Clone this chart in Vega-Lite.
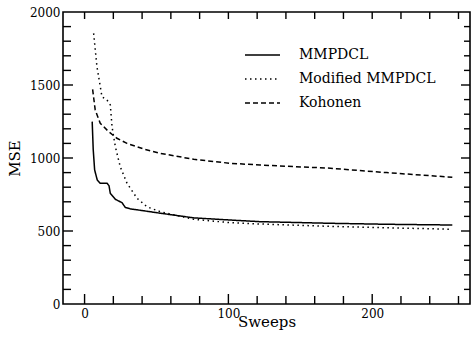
{
  "$schema": "https://vega.github.io/schema/vega-lite/v6.json",
  "width": 407,
  "height": 292,
  "autosize": {"type": "none"},
  "padding": {"left": 63, "top": 12, "right": 1, "bottom": 41},
  "background": "white",
  "config": {
    "view": {"stroke": "black", "strokeWidth": 1.6},
    "font": "DejaVu Serif",
    "axis": {"domain": false, "ticks": false, "grid": false, "labelColor": "black", "titleColor": "black", "titleFontWeight": "normal", "labelFont": "DejaVu Serif", "titleFont": "DejaVu Serif", "labelFontSize": 12, "titleFontSize": 15}
  },
  "datasets": {
    "curves": [
      {"sweep": 5.3, "mse": 1249, "method": "MMPDCL"},
      {"sweep": 6.0, "mse": 1060, "method": "MMPDCL"},
      {"sweep": 7.0, "mse": 918, "method": "MMPDCL"},
      {"sweep": 8.8, "mse": 850, "method": "MMPDCL"},
      {"sweep": 10.9, "mse": 827, "method": "MMPDCL"},
      {"sweep": 15.6, "mse": 827, "method": "MMPDCL"},
      {"sweep": 17.0, "mse": 810, "method": "MMPDCL"},
      {"sweep": 17.9, "mse": 758, "method": "MMPDCL"},
      {"sweep": 21.4, "mse": 717, "method": "MMPDCL"},
      {"sweep": 26.0, "mse": 694, "method": "MMPDCL"},
      {"sweep": 28.3, "mse": 662, "method": "MMPDCL"},
      {"sweep": 32.0, "mse": 651, "method": "MMPDCL"},
      {"sweep": 38.7, "mse": 642, "method": "MMPDCL"},
      {"sweep": 50.4, "mse": 625, "method": "MMPDCL"},
      {"sweep": 75.9, "mse": 590, "method": "MMPDCL"},
      {"sweep": 101.5, "mse": 575, "method": "MMPDCL"},
      {"sweep": 122, "mse": 564, "method": "MMPDCL"},
      {"sweep": 170, "mse": 553, "method": "MMPDCL"},
      {"sweep": 210, "mse": 546, "method": "MMPDCL"},
      {"sweep": 255.7, "mse": 541, "method": "MMPDCL"},
      {"sweep": 6.3, "mse": 1854, "method": "Modified MMPDCL"},
      {"sweep": 8.6, "mse": 1626, "method": "Modified MMPDCL"},
      {"sweep": 12.1, "mse": 1420, "method": "Modified MMPDCL"},
      {"sweep": 15.6, "mse": 1397, "method": "Modified MMPDCL"},
      {"sweep": 17.9, "mse": 1363, "method": "Modified MMPDCL"},
      {"sweep": 19.1, "mse": 1214, "method": "Modified MMPDCL"},
      {"sweep": 21.4, "mse": 1077, "method": "Modified MMPDCL"},
      {"sweep": 24.8, "mse": 940, "method": "Modified MMPDCL"},
      {"sweep": 29.5, "mse": 827, "method": "Modified MMPDCL"},
      {"sweep": 36.5, "mse": 724, "method": "Modified MMPDCL"},
      {"sweep": 43.4, "mse": 666, "method": "Modified MMPDCL"},
      {"sweep": 52.7, "mse": 632, "method": "Modified MMPDCL"},
      {"sweep": 75.9, "mse": 580, "method": "Modified MMPDCL"},
      {"sweep": 101.5, "mse": 557, "method": "Modified MMPDCL"},
      {"sweep": 122, "mse": 548, "method": "Modified MMPDCL"},
      {"sweep": 170, "mse": 532, "method": "Modified MMPDCL"},
      {"sweep": 210, "mse": 522, "method": "Modified MMPDCL"},
      {"sweep": 255.7, "mse": 512, "method": "Modified MMPDCL"},
      {"sweep": 5.6, "mse": 1470, "method": "Kohonen"},
      {"sweep": 7.4, "mse": 1329, "method": "Kohonen"},
      {"sweep": 10.9, "mse": 1238, "method": "Kohonen"},
      {"sweep": 16.7, "mse": 1181, "method": "Kohonen"},
      {"sweep": 22.5, "mse": 1135, "method": "Kohonen"},
      {"sweep": 29.5, "mse": 1100, "method": "Kohonen"},
      {"sweep": 41, "mse": 1062, "method": "Kohonen"},
      {"sweep": 52.7, "mse": 1032, "method": "Kohonen"},
      {"sweep": 75.9, "mse": 991, "method": "Kohonen"},
      {"sweep": 101, "mse": 964, "method": "Kohonen"},
      {"sweep": 122, "mse": 952, "method": "Kohonen"},
      {"sweep": 170.9, "mse": 930, "method": "Kohonen"},
      {"sweep": 210, "mse": 900, "method": "Kohonen"},
      {"sweep": 255.7, "mse": 868, "method": "Kohonen"}
    ],
    "xticks": [
      {"t": 0}, {"t": 20}, {"t": 40}, {"t": 60}, {"t": 80}, {"t": 100}, {"t": 120},
      {"t": 140}, {"t": 160}, {"t": 180}, {"t": 200}, {"t": 220}, {"t": 240}, {"t": 260}
    ],
    "yticks": [
      {"t": 100}, {"t": 200}, {"t": 300}, {"t": 400}, {"t": 500}, {"t": 600}, {"t": 700},
      {"t": 800}, {"t": 900}, {"t": 1000}, {"t": 1100}, {"t": 1200}, {"t": 1300}, {"t": 1400},
      {"t": 1500}, {"t": 1600}, {"t": 1700}, {"t": 1800}, {"t": 1900}
    ]
  },
  "layer": [
    {
      "data": {"name": "curves"},
      "mark": {"type": "line", "color": "black", "strokeWidth": 1.5},
      "encoding": {
        "x": {"field": "sweep", "type": "quantitative", "title": "Sweeps", "scale": {"domain": [-15, 268], "nice": false, "zero": false},
          "axis": {"orient": "bottom", "title": "Sweeps", "format": "d", "values": [0, 100, 200], "labelPadding": 4, "titlePadding": -5, "labelFlush": false}},
        "y": {"field": "mse", "type": "quantitative", "title": "MSE", "scale": {"domain": [0, 2000], "nice": false},
          "axis": {"orient": "left", "title": "MSE", "format": "d", "values": [0, 500, 1000, 1500, 2000], "labelPadding": 3, "titlePadding": 7, "labelFlush": false}},
        "strokeDash": {"field": "method", "type": "nominal",
          "scale": {"domain": ["MMPDCL", "Modified MMPDCL", "Kohonen"], "range": [[1, 0], [1.5, 3.5], [5, 3]]},
          "legend": {"title": null, "orient": "none", "legendX": 181, "legendY": 31, "padding": 0, "symbolType": "stroke", "symbolSize": 1225, "symbolStrokeColor": "black", "symbolStrokeWidth": 1.5, "labelFont": "DejaVu Serif", "labelFontSize": 14, "labelColor": "black", "rowPadding": 0, "clipHeight": 24, "labelOffset": 18}},
        "detail": {"field": "method"}
      }
    },
    {
      "data": {"name": "xticks"},
      "mark": {"type": "tick", "orient": "vertical", "color": "black", "thickness": 1.4, "clip": true, "opacity": 1},
      "encoding": {
        "x": {"field": "t", "type": "quantitative", "title": "Sweeps"},
        "y": {"datum": 0, "type": "quantitative", "title": "MSE"},
        "size": {"condition": {"test": "datum.t % 100 === 0", "value": 20}, "value": 16}
      }
    },
    {
      "data": {"name": "xticks"},
      "mark": {"type": "tick", "orient": "vertical", "color": "black", "thickness": 1.4, "clip": true, "opacity": 1},
      "encoding": {
        "x": {"field": "t", "type": "quantitative", "title": "Sweeps"},
        "y": {"datum": 2000, "type": "quantitative", "title": "MSE"},
        "size": {"value": 14}
      }
    },
    {
      "data": {"name": "yticks"},
      "mark": {"type": "tick", "orient": "horizontal", "color": "black", "thickness": 1.4, "clip": true, "opacity": 1},
      "encoding": {
        "y": {"field": "t", "type": "quantitative", "title": "MSE"},
        "x": {"datum": -15, "type": "quantitative", "title": "Sweeps"},
        "size": {"condition": {"test": "datum.t % 500 === 0", "value": 20}, "value": 16}
      }
    },
    {
      "data": {"name": "yticks"},
      "mark": {"type": "tick", "orient": "horizontal", "color": "black", "thickness": 1.4, "clip": true, "opacity": 1},
      "encoding": {
        "y": {"field": "t", "type": "quantitative", "title": "MSE"},
        "x": {"datum": 268, "type": "quantitative", "title": "Sweeps"},
        "size": {"condition": {"test": "datum.t % 500 === 0", "value": 18}, "value": 12}
      }
    }
  ]
}
